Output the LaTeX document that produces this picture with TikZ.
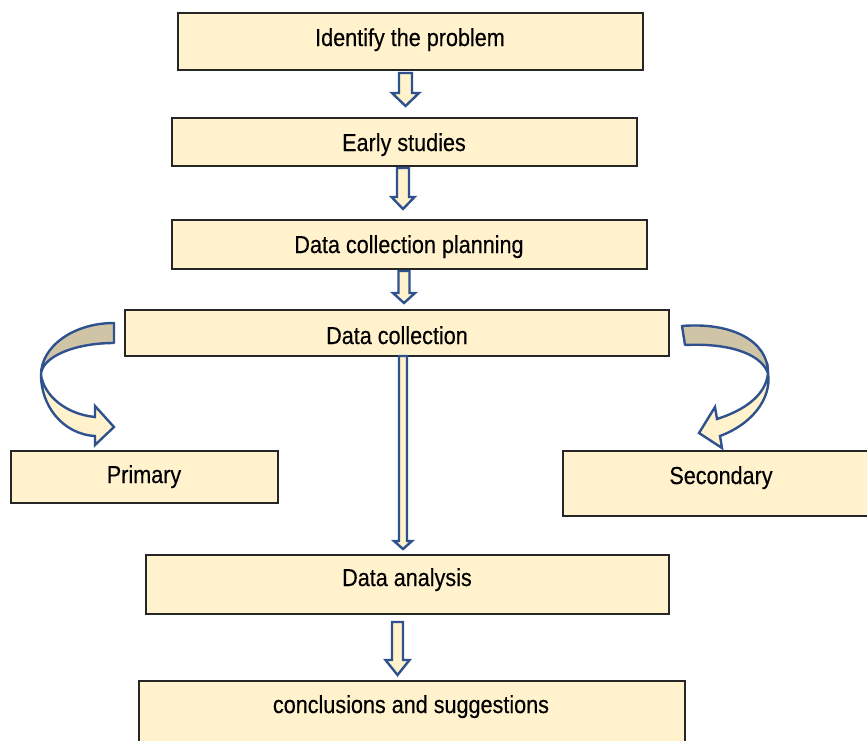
\documentclass[tikz,border=0pt]{standalone}
\usepackage{fontspec}
\setmainfont{Liberation Sans}[FakeStretch=0.88,FakeBold=0.35]
\usetikzlibrary{fit}
\definecolor{boxfill}{HTML}{FFF2CC}
\definecolor{arrblue}{HTML}{2F528F}
\definecolor{tan}{HTML}{CFC5A6}
\tikzset{
  box/.style={draw=black!85, line width=1.1pt, fill=boxfill, inner sep=0pt, rectangle},
  lbl/.style={font=\fontsize{18.4pt}{22pt}\selectfont, anchor=base, inner sep=0pt, text=black},
  blk/.style={draw=arrblue, line width=1.8pt, fill=boxfill, line join=miter},
  blkdark/.style={draw=arrblue, line width=1.8pt, fill=tan, line join=round},
}
% block arrow: #1 x centre, #2 top, #3 head start, #4 tip, #5 shaft half, #6 head half
\newcommand\blockarr[6]{%
  \draw[blk] (#1-#5,#2) -- (#1+#5,#2) -- (#1+#5,#3) -- (#1+#6,#3) -- (#1,#4)
    -- (#1-#6,#3) -- (#1-#5,#3) -- cycle;}
\begin{document}
\begin{tikzpicture}[x=0.75pt,y=-0.75pt]
\useasboundingbox (0,0) rectangle (867,740);
\clip (0,0) rectangle (867,740);
\fill[white] (0,0) rectangle (867,740);

% boxes
\node[box, fit={(178,13) (643,70)}] (identify) {};
\node[box, fit={(172,118) (637,166)}] (early) {};
\node[box, fit={(172,220) (647,269)}] (planning) {};
\node[box, fit={(125,310) (669,356)}] (collection) {};
\node[box, fit={(11,451) (278,503)}] (primary) {};
\node[box, fit={(563,451) (875,516)}] (secondary) {};
\node[box, fit={(146,555) (669,614)}] (analysis) {};
\node[box, fit={(139,681) (685,750)}] (conclusions) {};

% labels
\node[lbl] (tidentify) at (410,46) {Identify the problem};
\node[lbl] (tearly) at (404,151) {Early studies};
\node[lbl] (tplanning) at (409,253) {Data collection planning};
\node[lbl] (tcollection) at (397,344) {Data collection};
\node[lbl] (tprimary) at (144,483) {Primary};
\node[lbl] (tsecondary) at (721,484) {Secondary};
\node[lbl] (tanalysis) at (407,586) {Data analysis};
\node[lbl] (tconclusions) at (411,713) {conclusions and suggestions};

% straight block arrows
\blockarr{405.5}{73}{93}{106}{6.5}{13.5}
\blockarr{403}{168}{197}{209}{6}{11.5}
\blockarr{404}{271}{293}{303}{5.5}{11}
\blockarr{403}{356}{541}{549}{4}{9}
\blockarr{397.5}{622}{660}{675}{5.5}{12}

% left curved arrow
\draw[blkdark] (114,323) .. controls (73.7,323) and (41,346.3) .. (41,375)
  .. controls (41,357.3) and (73.7,343) .. (114,343) -- cycle;
\draw[blk] (41,375) .. controls (41,405) and (62,434) .. (95,436) -- (95,445) -- (114,427)
  -- (95,406) -- (95,417) .. controls (65,414) and (44,395) .. (41,375) -- cycle;

% right curved arrow
\draw[blkdark] (682,326) .. controls (730,322) and (768,340) .. (768,373)
  .. controls (760,352) and (725,343) .. (685,345) -- cycle;
\draw[blk] (768,373) .. controls (772,400) and (750,425) .. (720,436) -- (722,448) -- (699,433)
  -- (715,407) -- (717,419) .. controls (745,410) and (766,395) .. (768,373) -- cycle;
\end{tikzpicture}
\end{document}
